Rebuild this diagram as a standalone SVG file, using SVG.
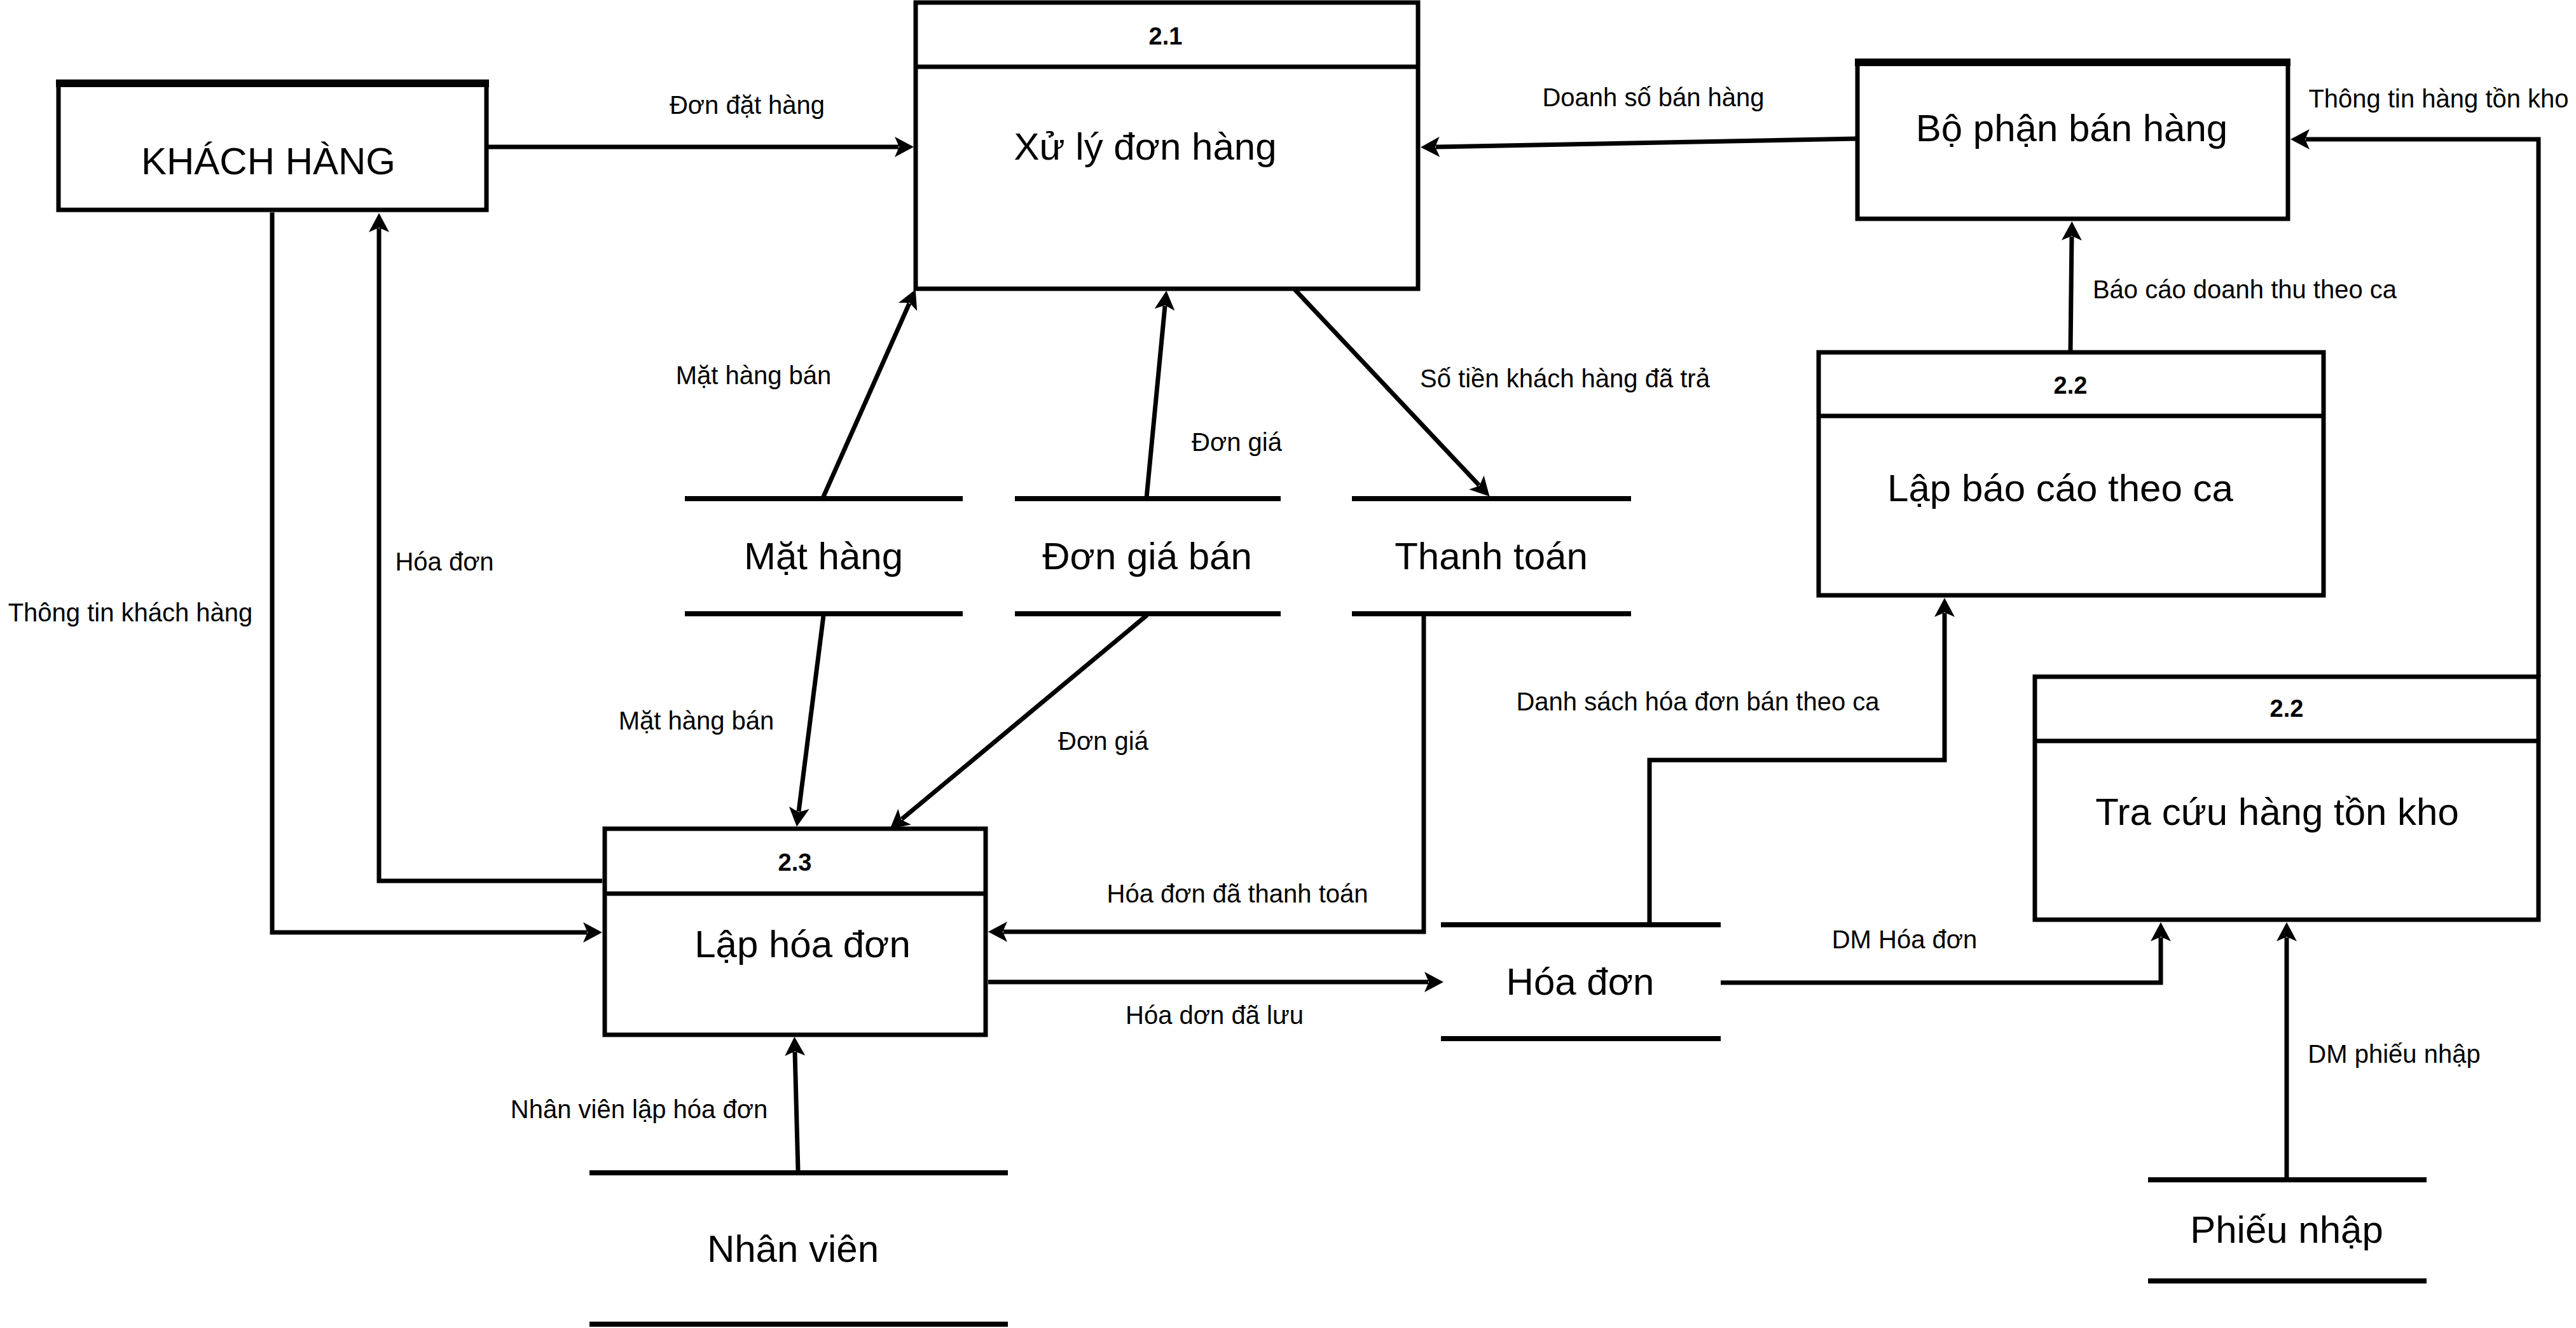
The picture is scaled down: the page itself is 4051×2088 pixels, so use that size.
<svg xmlns="http://www.w3.org/2000/svg" width="4051" height="2088" viewBox="0 0 4051 2088">
<style>
text{font-family:"Liberation Sans",Arial,sans-serif;fill:#000}
.big{font-size:60px;text-anchor:middle}
.lbl{font-size:40px;text-anchor:middle}
.num{font-size:38px;font-weight:bold;text-anchor:middle}
.box{fill:#fff;stroke:#000;stroke-width:7}
.top{stroke:#000;stroke-width:12}
.div{stroke:#000;stroke-width:7}
.ds{stroke:#000;stroke-width:8}
.c{fill:none;stroke:#000;stroke-width:7;marker-end:url(#arr)}
.cn{fill:none;stroke:#000;stroke-width:7}
</style>
<defs>
<marker id="arr" markerUnits="userSpaceOnUse" viewBox="0 0 30 32" markerWidth="30" markerHeight="32" refX="6" refY="16" orient="auto">
<path d="M0,0 L30,16 L0,32 L7,16 z" fill="#000"/>
</marker>
</defs>
<rect width="4051" height="2088" fill="#fff"/>
<g id="connectors">
<path class="c" d="M767 231 H1413"/>
<path class="c" d="M2920 218 L2258 231"/>
<path class="c" d="M1294 783 L1430 477"/>
<path class="c" d="M1803 783 L1832 481"/>
<path class="c" d="M2036 455 L2326 763"/>
<path class="c" d="M1295 968 L1256 1276"/>
<path class="c" d="M1804 967 L1418 1288"/>
<path class="c" d="M2239 967 V1465 H1578"/>
<path class="c" d="M1554 1544 H2246"/>
<path class="c" d="M428 334 V1466 H923"/>
<path class="c" d="M947 1385 H596 V359"/>
<path class="c" d="M2594 1454 V1195 H3058 V964"/>
<path class="c" d="M3256 552 L3258 372"/>
<path class="c" d="M3992 1064 V219 H3626"/>
<path class="c" d="M2706 1545 H3398 V1474"/>
<path class="c" d="M3596 1852 V1474"/>
<path class="c" d="M1255 1841 L1250 1654"/>
<text class="lbl" x="1175" y="179">Đơn đặt hàng</text>
<text class="lbl" x="2600" y="167">Doanh số bán hàng</text>
<text class="lbl" x="3835" y="169">Thông tin hàng tồn kho</text>
<text class="lbl" x="1185" y="604">Mặt hàng bán</text>
<text class="lbl" x="3530" y="469">Báo cáo doanh thu theo ca</text>
<text class="lbl" x="2461" y="609">Số tiền khách hàng đã trả</text>
<text class="lbl" x="1945" y="709">Đơn giá</text>
<text class="lbl" x="699" y="897">Hóa đơn</text>
<text class="lbl" x="205" y="977">Thông tin khách hàng</text>
<text class="lbl" x="1095" y="1147">Mặt hàng bán</text>
<text class="lbl" x="1735" y="1179">Đơn giá</text>
<text class="lbl" x="2670" y="1117">Danh sách hóa đơn bán theo ca</text>
<text class="lbl" x="1946" y="1419">Hóa đơn đã thanh toán</text>
<text class="lbl" x="2995" y="1491">DM Hóa đơn</text>
<text class="lbl" x="1910" y="1610">Hóa dơn đã lưu</text>
<text class="lbl" x="3765" y="1671">DM phiếu nhập</text>
<text class="lbl" x="1005" y="1758">Nhân viên lập hóa đơn</text>
</g>
<g id="khach-hang">
<rect class="box" x="92" y="130" width="673" height="200"/>
<line class="top" x1="88" y1="131" x2="769" y2="131"/>
<text class="big" x="422" y="274">KHÁCH HÀNG</text>
</g>
<g id="bo-phan-ban-hang">
<rect class="box" x="2921" y="97" width="677" height="247"/>
<line class="top" x1="2917" y1="98" x2="3602" y2="98"/>
<text class="big" x="3258" y="222">Bộ phận bán hàng</text>
</g>
<g id="p21">
<rect class="box" x="1440" y="4" width="790" height="450"/>
<line class="div" x1="1440" y1="105" x2="2230" y2="105"/>
<text class="num" x="1833" y="70">2.1</text>
<text class="big" x="1801" y="251">Xử lý đơn hàng</text>
</g>
<g id="p22a">
<rect class="box" x="2860" y="554" width="794" height="382"/>
<line class="div" x1="2860" y1="654" x2="3654" y2="654"/>
<text class="num" x="3256" y="619">2.2</text>
<text class="big" x="3240" y="788">Lập báo cáo theo ca</text>
</g>
<g id="p22b">
<rect class="box" x="3200" y="1064" width="792" height="382"/>
<line class="div" x1="3200" y1="1165" x2="3992" y2="1165"/>
<text class="num" x="3596" y="1127">2.2</text>
<text class="big" x="3581" y="1297">Tra cứu hàng tồn kho</text>
</g>
<g id="p23">
<rect class="box" x="951" y="1303" width="599" height="324"/>
<line class="div" x1="951" y1="1405" x2="1550" y2="1405"/>
<text class="num" x="1250" y="1369">2.3</text>
<text class="big" x="1262" y="1505">Lập hóa đơn</text>
</g>
<g id="ds-mat-hang">
<line class="ds" x1="1077" y1="784" x2="1514" y2="784"/>
<line class="ds" x1="1077" y1="965" x2="1514" y2="965"/>
<text class="big" x="1295" y="895">Mặt hàng</text>
</g>
<g id="ds-don-gia-ban">
<line class="ds" x1="1596" y1="784" x2="2014" y2="784"/>
<line class="ds" x1="1596" y1="965" x2="2014" y2="965"/>
<text class="big" x="1804" y="895">Đơn giá bán</text>
</g>
<g id="ds-thanh-toan">
<line class="ds" x1="2126" y1="784" x2="2565" y2="784"/>
<line class="ds" x1="2126" y1="965" x2="2565" y2="965"/>
<text class="big" x="2345" y="895">Thanh toán</text>
</g>
<g id="ds-hoa-don">
<line class="ds" x1="2266" y1="1454" x2="2706" y2="1454"/>
<line class="ds" x1="2266" y1="1633" x2="2706" y2="1633"/>
<text class="big" x="2485" y="1564">Hóa đơn</text>
</g>
<g id="ds-nhan-vien">
<line class="ds" x1="927" y1="1844" x2="1585" y2="1844"/>
<line class="ds" x1="927" y1="2082" x2="1585" y2="2082"/>
<text class="big" x="1247" y="1984">Nhân viên</text>
</g>
<g id="ds-phieu-nhap">
<line class="ds" x1="3378" y1="1855" x2="3816" y2="1855"/>
<line class="ds" x1="3378" y1="2014" x2="3816" y2="2014"/>
<text class="big" x="3596" y="1954">Phiếu nhập</text>
</g>
</svg>
